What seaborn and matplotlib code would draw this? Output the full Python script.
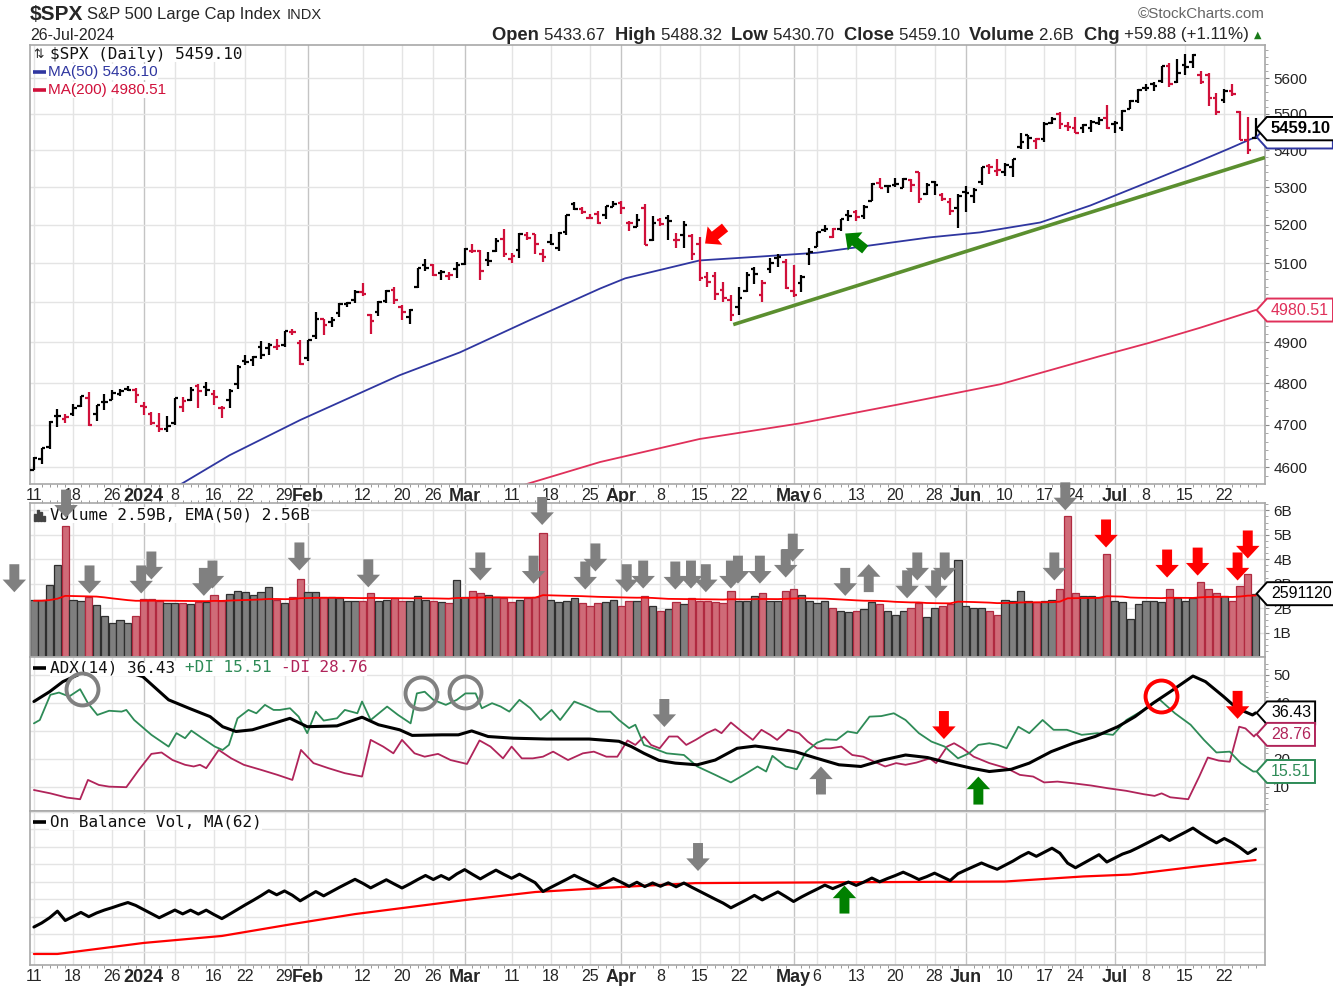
import numpy as np
import pandas as pd
import matplotlib
matplotlib.use("Agg")
import matplotlib.pyplot as plt
from matplotlib.path import Path
from matplotlib.patches import Rectangle
from matplotlib.ticker import FixedLocator, NullFormatter, FuncFormatter
import seaborn as sns

W, H = 1333, 990

# ---------------- data ----------------
HOLIDAYS = ["2023-12-25", "2024-01-01", "2024-01-15", "2024-02-19",
            "2024-03-29", "2024-05-27", "2024-06-19", "2024-07-04"]
dates = pd.bdate_range("2023-12-11", "2024-07-26")
dates = dates[~dates.isin(pd.to_datetime(HOLIDAYS))]

PREV_CLOSE = 4604.37

opens = [4593, 4618, 4646, 4721, 4714, 4725, 4744, 4764, 4725, 4753,
         4758, 4773, 4786, 4782, 4745, 4725, 4697, 4690, 4703, 4742,
         4759, 4792, 4791, 4773, 4740, 4760, 4797, 4853, 4856, 4888,
         4886, 4888, 4892, 4925, 4899, 4862, 4916, 4957, 4951, 4973,
         4996, 5005, 5026, 4968, 4976, 5004, 5032, 4989, 4963, 5039,
         5094, 5094, 5074, 5067, 5085, 5098, 5131, 5132, 5108, 5132,
         5164, 5111, 5134, 5174, 5175, 5124, 5154, 5139, 5182, 5254,
         5242, 5219, 5228, 5226, 5248, 5258, 5204, 5195, 5245, 5159,
         5212, 5217, 5161, 5172, 5171, 5149, 5065, 5068, 5032, 5005,
         4987, 5028, 5085, 5019, 5084, 5114, 5103, 5029, 5050, 5123,
         5143, 5187, 5169, 5189, 5225, 5234, 5222, 5264, 5310, 5303,
         5305, 5298, 5319, 5340, 5282, 5315, 5278, 5259, 5244, 5287,
         5275, 5314, 5357, 5344, 5341, 5353, 5410, 5441, 5424, 5431,
         5476, 5500, 5467, 5460, 5461, 5460, 5474, 5488, 5471, 5462,
         5514, 5537, 5572, 5584, 5591, 5635, 5590, 5638, 5645, 5610,
         5608, 5543, 5540, 5565, 5505, 5428, 5433.67]
highs = [4623, 4644, 4709, 4738, 4725, 4749, 4768, 4779, 4748, 4773,
         4784, 4785, 4793, 4788, 4755, 4729, 4727, 4721, 4764, 4765,
         4791, 4798, 4803, 4782, 4744, 4785, 4843, 4868, 4866, 4903,
         4898, 4907, 4929, 4932, 4906, 4906, 4975, 4958, 4964, 4999,
         5000, 5030, 5048, 4971, 5003, 5032, 5039, 4994, 4983, 5087,
         5111, 5097, 5082, 5077, 5104, 5140, 5150, 5134, 5128, 5165,
         5189, 5125, 5179, 5180, 5176, 5136, 5176, 5180, 5225, 5261,
         5247, 5229, 5236, 5249, 5264, 5264, 5209, 5229, 5256, 5222,
         5219, 5225, 5178, 5211, 5175, 5168, 5077, 5077, 5052, 5019,
         5038, 5076, 5090, 5058, 5114, 5124, 5110, 5096, 5070, 5140,
         5181, 5200, 5192, 5215, 5239, 5238, 5251, 5311, 5325, 5305,
         5325, 5324, 5323, 5342, 5311, 5316, 5283, 5270, 5281, 5303,
         5298, 5355, 5362, 5376, 5366, 5376, 5447, 5441, 5432, 5477,
         5490, 5506, 5478, 5490, 5472, 5483, 5490, 5524, 5480, 5510,
         5539, 5570, 5584, 5590, 5635, 5642, 5656, 5670, 5670, 5622,
         5615, 5557, 5570, 5585, 5509, 5491, 5488.32]
lows = [4593, 4608, 4643, 4694, 4704, 4721, 4743, 4697, 4709, 4736,
        4758, 4768, 4780, 4751, 4722, 4700, 4683, 4682, 4700, 4731,
        4756, 4739, 4769, 4747, 4715, 4740, 4786, 4844, 4842, 4859,
        4869, 4881, 4888, 4917, 4845, 4853, 4907, 4918, 4939, 4963,
        4988, 4998, 5016, 4920, 4966, 4999, 4996, 4955, 4946, 5037,
        5081, 5068, 5058, 5058, 5061, 5094, 5127, 5056, 5092, 5129,
        5117, 5100, 5114, 5161, 5124, 5104, 5146, 5131, 5172, 5240,
        5229, 5216, 5203, 5214, 5246, 5229, 5184, 5194, 5146, 5157,
        5198, 5160, 5139, 5139, 5107, 5053, 5039, 5007, 5002, 4954,
        4969, 5027, 5047, 5002, 5074, 5089, 5035, 5013, 5025, 5096,
        5142, 5180, 5165, 5183, 5210, 5211, 5215, 5264, 5297, 5284,
        5299, 5297, 5286, 5257, 5278, 5280, 5262, 5226, 5192, 5234,
        5257, 5306, 5335, 5331, 5331, 5328, 5404, 5404, 5404, 5421,
        5471, 5459, 5452, 5447, 5446, 5451, 5468, 5459, 5446, 5452,
        5514, 5531, 5563, 5565, 5587, 5575, 5586, 5610, 5630, 5583,
        5522, 5497, 5529, 5550, 5427, 5390, 5430.70]
closes = [4622.44, 4643.70, 4707.09, 4719.55, 4719.19, 4740.56, 4768.37, 4698.35, 4746.75, 4754.63,
          4774.75, 4781.58, 4783.35, 4769.83, 4742.83, 4704.81, 4688.68, 4697.24, 4763.54, 4756.50,
          4783.45, 4780.24, 4783.83, 4765.98, 4739.21, 4780.94, 4839.81, 4850.43, 4864.60, 4868.55,
          4894.16, 4890.97, 4927.93, 4924.97, 4845.65, 4906.19, 4958.61, 4942.81, 4954.23, 4995.06,
          4997.91, 5026.61, 5021.84, 4953.17, 5000.62, 5029.73, 5005.57, 4975.51, 4981.80, 5087.03,
          5088.80, 5069.53, 5078.18, 5069.76, 5096.27, 5137.08, 5130.95, 5078.65, 5104.76, 5157.36,
          5123.69, 5117.94, 5175.27, 5165.31, 5150.48, 5117.09, 5149.42, 5178.51, 5224.62, 5241.53,
          5234.18, 5218.19, 5203.58, 5248.49, 5254.35, 5243.77, 5205.81, 5211.49, 5147.21, 5204.34,
          5202.39, 5209.91, 5160.64, 5199.06, 5123.41, 5061.82, 5051.41, 5022.21, 5011.12, 4967.23,
          5010.60, 5070.55, 5071.63, 5048.42, 5099.96, 5116.17, 5035.69, 5018.39, 5064.20, 5127.79,
          5180.74, 5187.70, 5187.67, 5214.08, 5222.68, 5221.42, 5246.68, 5308.15, 5297.10, 5303.27,
          5308.13, 5321.41, 5307.01, 5267.84, 5304.72, 5306.04, 5266.95, 5235.48, 5277.51, 5283.40,
          5291.34, 5354.03, 5352.96, 5346.99, 5360.79, 5375.32, 5421.03, 5433.74, 5431.60, 5473.23,
          5487.03, 5473.17, 5464.62, 5447.87, 5469.30, 5477.90, 5482.87, 5460.48, 5475.09, 5509.01,
          5537.02, 5567.19, 5572.85, 5576.98, 5633.91, 5584.54, 5615.35, 5631.22, 5667.20, 5588.27,
          5544.59, 5505.00, 5564.41, 5555.74, 5427.13, 5399.22, 5459.10]
# volume in billions
volumes = [2.34, 2.34, 2.95, 3.77, 5.34, 2.34, 2.30, 2.45, 2.13, 1.66,
           1.38, 1.52, 1.40, 1.66, 2.37, 2.37, 2.30, 2.20, 2.20, 2.20,
           2.15, 2.25, 2.25, 2.55, 2.30, 2.58, 2.68, 2.65, 2.55, 2.65,
           2.85, 2.35, 2.20, 2.45, 3.20, 2.65, 2.65, 2.45, 2.45, 2.40,
           2.30, 2.30, 2.30, 2.60, 2.30, 2.35, 2.40, 2.30, 2.30, 2.50,
           2.35, 2.30, 2.25, 2.20, 3.15, 2.45, 2.70, 2.60, 2.55, 2.45,
           2.40, 2.25, 2.35, 2.40, 2.45, 5.07, 2.35, 2.25, 2.30, 2.40,
           2.20, 2.10, 2.20, 2.25, 2.35, 2.10, 2.30, 2.30, 2.50, 2.10,
           1.90, 1.95, 2.25, 2.15, 2.40, 2.30, 2.30, 2.25, 2.20, 2.70,
           2.30, 2.30, 2.50, 2.60, 2.30, 2.30, 2.70, 2.80, 2.55, 2.30,
           2.20, 2.30, 2.00, 1.90, 1.85, 1.90, 1.95, 2.25, 2.15, 1.90,
           1.70, 1.90, 2.00, 2.20, 1.65, 2.00, 2.10, 2.15, 3.95, 2.10,
           2.00, 2.00, 1.90, 1.70, 2.35, 2.30, 2.70, 2.30, 2.25, 2.30,
           2.35, 2.80, 5.75, 2.60, 2.50, 2.50, 2.45, 4.20, 2.30, 2.25,
           1.55, 2.15, 2.30, 2.30, 2.25, 2.80, 2.40, 2.30, 2.40, 3.05,
           2.80, 2.60, 2.50, 2.30, 2.90, 3.40, 2.59]
VOL_EMA_SEED = 2.30

tick_dates = ["2023-12-11", "2023-12-18", "2023-12-26", "2024-01-02", "2024-01-08", "2024-01-16",
              "2024-01-22", "2024-01-29", "2024-02-01", "2024-02-12", "2024-02-20", "2024-02-26",
              "2024-03-01", "2024-03-11", "2024-03-18", "2024-03-25", "2024-04-01", "2024-04-08",
              "2024-04-15", "2024-04-22", "2024-05-01", "2024-05-06", "2024-05-13", "2024-05-20",
              "2024-05-28", "2024-06-03", "2024-06-10", "2024-06-17", "2024-06-24", "2024-07-01",
              "2024-07-08", "2024-07-15", "2024-07-22"]
tick_labels = ["11", "18", "26", "2024", "8", "16", "22", "29", "Feb", "12", "20", "26",
               "Mar", "11", "18", "25", "Apr", "8", "15", "22", "May", "6", "13", "20",
               "28", "Jun", "10", "17", "24", "Jul", "8", "15", "22"]
month_labels = ["2024", "Feb", "Mar", "Apr", "May", "Jun", "Jul"]

# moving averages (bar index, value)
ma50_x = [17, 19, 25, 34, 46.7, 54.4, 63.3, 72.3, 75.5, 85, 92.7, 100, 106.8, 114.4,
          120.8, 128.5, 134.9, 141.3, 147.6, 152.7, 156]
ma50 = [4545, 4563, 4628, 4711, 4819, 4875, 4955, 5035, 5061, 5107, 5117, 5127, 5146, 5167,
        5180, 5206, 5251, 5305, 5359, 5405, 5436.10]
ma200_x = [61, 63.3, 72.3, 85, 97.8, 110.6, 123.4, 136, 142.5, 148.9, 156]
ma200 = [4550, 4563, 4612, 4666, 4703, 4749, 4797, 4865, 4899, 4936, 4980.51]
trend_x = [89.3, 157.2]
trend_y = [4944, 5380]

adx_x = [0, 2, 3.7, 6, 9, 12, 13.9, 17.2, 19.8, 22.5, 24.1, 25.8, 27.9, 30.6, 32.7, 34.9, 38.7,
         41.9, 44.0, 46.7, 48.3, 52.1, 54.2, 55.9, 58.0, 61.2, 65.5, 70.9, 74.7, 76.3, 77.9, 79.8,
         81.9, 84.7, 87.0, 89.8, 92.1, 94.3, 97.2, 100.0, 102.8, 105.6, 108.4, 111.3, 114.1, 116.9,
         119.7, 122.0, 124.8, 127.1, 129.9, 132.7, 135.5, 138.4, 140.6, 142.9, 145.1, 148.0, 149.6,
         151.9, 153.6, 155.6, 156]
adx = [40.5, 44.0, 47.6, 50.5, 52.0, 51.0, 49.4, 41.1, 38.1, 35.1, 31.5, 29.8, 30.4, 32.7, 34.5,
       31.5, 31.8, 34.9, 32.2, 30.4, 28.4, 28.6, 28.6, 30.0, 28.0, 27.4, 27.1, 27.1, 26.3, 24.4,
       22.0, 19.5, 18.5, 17.9, 19.6, 23.8, 24.6, 23.8, 22.6, 20.2, 17.9, 17.3, 19.6, 21.4, 20.5,
       18.5, 16.7, 15.5, 16.3, 18.5, 22.6, 25.6, 28.0, 31.5, 35.1, 39.9, 44.0, 49.6, 47.6, 42.3,
       38.1, 35.7, 36.43]
pdi_x = [0, 0.75, 2.1, 3.2, 4.5, 5.9, 6.9, 8.1, 9.6, 11.2, 11.8, 12.8, 15.0, 17.2, 18.2, 19.3,
         20.1, 21.5, 23.1, 24.1, 24.9, 26.0, 27.4, 28.4, 29.5, 30.6, 31.4, 32.7, 33.8, 34.9, 36.0,
         37.0, 38.7, 39.7, 41.3, 41.9, 43.0, 45.1, 46.5, 48.1, 48.9, 49.9, 51.0, 52.6, 54.0, 55.1,
         56.4, 57.2, 58.5, 59.6, 60.7, 62.0, 63.4, 64.7, 66.1, 67.2, 69.0, 70.6, 72.0, 73.6, 74.7,
         76.0, 76.8, 77.9, 79.1, 80.8, 83.0, 84.7, 87.0, 89.0, 91.0, 92.4, 93.5, 94.3, 96.0, 97.4,
         98.6, 100.0, 101.1, 102.5, 103.9, 105.1, 106.7, 108.2, 109.8, 111.3, 113.0, 114.6, 116.3,
         118.0, 119.4, 120.6, 122.0, 123.1, 124.2, 125.7, 127.1, 128.8, 130.2, 131.9, 133.8, 135.8,
         137.8, 139.5, 141.7, 143.7, 145.7, 147.7, 149.4, 151.0, 152.7, 154.1, 155.7, 156]
pdi = [32.7, 33.9, 42.9, 43.7, 42.3, 44.9, 39.9, 35.7, 37.2, 36.9, 37.5, 33.9, 28.6, 24.4, 29.2,
       27.4, 30.1, 27.4, 24.4, 23.2, 25.0, 34.5, 37.5, 36.3, 39.3, 37.5, 37.5, 38.1, 35.1, 29.2,
       36.9, 33.7, 34.5, 37.5, 36.3, 40.5, 33.9, 38.7, 35.7, 32.7, 43.4, 44.0, 41.1, 39.3, 41.1,
       43.4, 43.4, 38.1, 39.9, 38.7, 36.9, 41.1, 38.1, 33.9, 37.5, 33.9, 40.5, 38.7, 36.9, 36.9,
       33.9, 31.0, 32.2, 25.0, 23.8, 22.0, 21.4, 17.3, 14.3, 11.6, 14.9, 17.3, 15.5, 21.1, 17.3,
       16.3, 22.6, 25.8, 27.0, 26.8, 29.8, 29.2, 35.1, 35.3, 36.3, 33.9, 29.2, 26.2, 24.4, 20.2,
       22.0, 25.0, 25.6, 25.0, 23.8, 31.5, 29.2, 33.9, 30.4, 30.4, 28.6, 29.2, 28.6, 33.9, 37.5,
       41.3, 36.3, 32.2, 26.8, 22.3, 22.6, 18.5, 15.5, 15.51]
mdi_x = [0, 2.1, 4.2, 5.9, 6.9, 8.3, 9.6, 11.8, 13.4, 15.0, 16.3, 17.7, 19.3, 20.4, 21.2, 22.0,
         23.6, 25.2, 26.8, 29.0, 31.1, 33.0, 34.1, 35.7, 37.6, 39.7, 41.9, 43.0, 44.6, 45.9, 47.0,
         48.6, 49.9, 51.6, 53.2, 55.3, 56.9, 58.3, 59.9, 61.0, 62.3, 63.7, 65.0, 66.3, 68.2, 70.1,
         71.5, 73.1, 74.5, 75.8, 76.8, 77.9, 78.8, 79.9, 81.1, 82.2, 83.3, 84.5, 85.9, 87.0, 87.8,
         89.0, 90.4, 91.8, 92.9, 94.0, 94.9, 96.3, 97.7, 98.8, 100.0, 101.7, 103.1, 104.5, 105.9,
         107.3, 108.7, 110.1, 111.3, 112.7, 114.4, 115.2, 116.6, 117.5, 118.6, 120.0, 122.0, 124.2,
         125.9, 127.6, 129.0, 130.7, 132.7, 135.0, 137.2, 139.5, 141.7, 143.1, 144.0, 145.1, 147.4,
         148.8, 149.9, 151.3, 152.7, 153.9, 154.7, 155.8, 156]
mdi = [8.9, 7.7, 6.2, 5.6, 12.5, 10.7, 10.1, 9.9, 16.1, 21.8, 22.3, 19.6, 17.9, 17.3, 17.9, 16.7,
       23.2, 20.2, 17.9, 16.1, 14.3, 12.5, 23.2, 18.5, 16.7, 14.9, 13.7, 26.8, 24.4, 22.0, 26.8,
       22.0, 20.8, 21.8, 19.6, 18.2, 26.6, 24.4, 20.2, 24.4, 20.2, 20.2, 20.8, 22.6, 19.6, 22.0,
       22.6, 20.8, 20.8, 26.6, 25.0, 28.0, 25.0, 23.8, 28.0, 28.0, 25.0, 26.8, 29.2, 30.6, 29.2,
       33.0, 29.8, 26.8, 30.4, 28.6, 26.8, 30.4, 29.2, 26.2, 23.8, 23.8, 24.4, 21.4, 20.8, 19.0,
       17.3, 18.5, 17.9, 18.7, 20.2, 18.5, 24.4, 25.6, 23.8, 20.8, 18.5, 16.7, 14.3, 13.7, 11.6,
       11.9, 11.3, 10.5, 9.5, 8.6, 7.4, 6.8, 7.7, 6.3, 5.6, 13.7, 20.5, 19.4, 19.0, 31.5, 30.9,
       28.0, 28.76]

OBV_START = 4.0
obv_ma_x = [0, 3, 10, 14, 24, 33, 41, 55, 64, 75, 84.5, 109, 124, 134, 140, 148, 156]
obv_ma = [-11.4, -11.4, -7.4, -5.1, -1.1, 5.7, 11.4, 19.4, 24.0, 26.9, 29.1, 29.7, 30.0, 32.9,
          34.0, 38.3, 42.3]

# annotation marks drawn by the chart author (bar index, value, colour, direction)
vol_arrows = [(-2.5, 2.65, "gray", "down"), (4.1, 5.7, "gray", "down"), (7.1, 2.6, "gray", "down"),
              (13.7, 2.6, "gray", "down"), (15.0, 3.17, "gray", "down"), (21.7, 2.5, "gray", "down"),
              (22.8, 2.8, "gray", "down"), (33.9, 3.54, "gray", "down"), (42.7, 2.85, "gray", "down"),
              (57.0, 3.13, "gray", "down"), (63.8, 3.0, "gray", "down"), (64.9, 5.4, "gray", "down"),
              (70.4, 2.76, "gray", "down"), (71.7, 3.5, "gray", "down"), (75.7, 2.65, "gray", "down"),
              (77.8, 2.8, "gray", "down"), (81.9, 2.76, "gray", "down"), (83.9, 2.8, "gray", "down"),
              (85.8, 2.65, "gray", "down"), (89.0, 2.8, "gray", "down"), (89.9, 3.0, "gray", "down"),
              (92.7, 3.0, "gray", "down"), (96.0, 3.25, "gray", "down"), (96.9, 3.9, "gray", "down"),
              (103.6, 2.5, "gray", "down"), (106.6, 3.8, "gray", "up"), (111.5, 2.4, "gray", "down"),
              (112.8, 3.13, "gray", "down"), (115.2, 2.4, "gray", "down"), (116.3, 3.13, "gray", "down"),
              (130.3, 3.13, "gray", "down"), (131.7, 6.0, "gray", "down"),
              (136.9, 4.48, "red", "down"), (144.7, 3.25, "red", "down"), (148.6, 3.33, "red", "down"),
              (153.7, 3.13, "red", "down"), (155.0, 4.03, "red", "down")]
adx_arrows = [(80.5, 31.4, "gray", "down"), (100.5, 17.3, "gray", "up"), (116.2, 27.1, "red", "down"),
              (120.6, 13.7, "green", "up"), (153.7, 34.3, "red", "down")]
adx_circles = [(6.1, 45.0, "gray"), (49.4, 43.7, "gray"), (55.0, 43.9, "gray"), (143.9, 42.3, "red")]
obv_arrows = [(84.8, 36.0, "gray", "down"), (103.5, 27.7, "green", "up")]
price_arrows = [(85.7, 5151, "red", (20, 16)), (103.6, 5177, "green", (20, -16))]

# ---------------- colours ----------------
UP_C, DOWN_C = "#000000", "#d0103a"
MA50_C, MA200_C = "#2f36a0", "#e0305a"
PDI_C, MDI_C = "#2e8b57", "#b0245a"
ARROW_C = {"gray": "#808080", "red": "#ff0000", "green": "#008000"}
GRID_C, MONTH_GRID_C, SPINE_C = "#e4e4e4", "#c4c4c4", "#a8a8a8"

sns.set_theme(style="white")
plt.rcParams["font.family"] = ["Liberation Sans", "DejaVu Sans"]
NARROW = ["Liberation Sans Narrow", "Liberation Sans", "DejaVu Sans"]
MONO = ["DejaVu Sans Mono", "DejaVu Sans"]

fig = plt.figure(figsize=(W / 100, H / 100), dpi=100)
fig.patch.set_facecolor("white")


def px_axes(x0, y0, x1, y1):
    return fig.add_axes([x0 / W, 1 - y1 / H, (x1 - x0) / W, (y1 - y0) / H])


def ptext(ax, x, y, s, **kw):
    return ax.text(x / W, 1 - y / H, s, transform=fig.transFigure, **kw)


def tag_box(x0, y0, width, height, mutation_size):
    pad = 0.25 * mutation_size
    x0, y0 = x0 - pad, y0 - pad
    x1, y1 = x0 + width + 2 * pad, y0 + height + 2 * pad
    tip = x0 - (y1 - y0) * 0.45
    return Path([(x0, y0), (x1, y0), (x1, y1), (x0, y1), (tip, (y0 + y1) / 2), (x0, y0)], closed=True)


def value_tag(ax, val, text, color, bold=False, zorder=9):
    ax.annotate(text, xy=(1, val), xycoords=("axes fraction", "data"), xytext=(6, 0),
                textcoords="offset pixels", ha="left", va="center", color=color,
                fontsize=12 if bold else 11.5, fontweight="bold" if bold else "normal",
                bbox=dict(boxstyle=tag_box, fc="white", ec=color, lw=1.4),
                annotation_clip=False, zorder=zorder)


def block_arrow(ax, x, y, color, direction="down", offset=None):
    if offset is None:
        offset = (0, 28) if direction == "down" else (0, -28)
    ax.annotate("", xy=(x, y), xytext=offset, textcoords="offset pixels",
                arrowprops=dict(arrowstyle="simple,head_length=0.7,head_width=1.3,tail_width=0.55",
                                fc=ARROW_C[color], ec="none", mutation_scale=13, shrinkA=0, shrinkB=0),
                annotation_clip=False, zorder=10)


x = np.arange(len(closes))
closes_a = np.array(closes)
prev = np.r_[PREV_CLOSE, closes_a[:-1]]
up = closes_a >= prev
bar_colors = np.where(up, UP_C, DOWN_C)
tick_pos = [dates.get_loc(pd.Timestamp(d)) for d in tick_dates]

ax_p = px_axes(30, 45, 1265, 484)
ax_v = px_axes(30, 503, 1265, 657)
ax_a = px_axes(30, 657, 1265, 811)
ax_o = px_axes(30, 811, 1265, 965)
axes = [ax_p, ax_v, ax_a, ax_o]

for ax in axes:
    ax.set_facecolor("white")
    ax.set_xlim(-0.5, 157.2)
    for s in ax.spines.values():
        s.set_color(SPINE_C)
        s.set_linewidth(1.2)
    for p, lab in zip(tick_pos, tick_labels):
        ax.axvline(p, color=MONTH_GRID_C if lab in month_labels else GRID_C, lw=1.0, zorder=0)
    ax.yaxis.tick_right()
    ax.tick_params(axis="y", which="major", right=True, left=False, length=3, width=0.8,
                   color="#888888", pad=3, labelsize=11, labelcolor="#222222")
    ax.tick_params(axis="y", which="minor", right=True, left=False, length=2, width=0.6, color="#999999")
    ax.xaxis.set_minor_locator(FixedLocator(x))
    ax.set_xticks(tick_pos)
    ax.set_xticklabels([])
    ax.tick_params(axis="x", which="both", bottom=False, top=False, length=0)

# ---------------- price panel ----------------
ax_p.set_yscale("log")
ax_p.vlines(x, lows, highs, colors=bar_colors, lw=1.6, zorder=3)
ax_p.hlines(opens, x - 0.45, x, colors=bar_colors, lw=1.6, zorder=3)
ax_p.hlines(closes, x, x + 0.45, colors=bar_colors, lw=1.6, zorder=3)
sns.lineplot(x=ma50_x, y=ma50, ax=ax_p, color=MA50_C, lw=1.3, estimator=None, sort=False, zorder=2)
sns.lineplot(x=ma200_x, y=ma200, ax=ax_p, color=MA200_C, lw=1.3, estimator=None, sort=False, zorder=2)
ax_p.plot(trend_x, trend_y, color="#5b8f2f", lw=2.6, zorder=4, solid_capstyle="butt")
ax_p.set_ylim(4561, 5695)
price_ticks = list(range(4600, 5601, 100))
ax_p.yaxis.set_major_locator(FixedLocator(price_ticks))
ax_p.yaxis.set_minor_locator(FixedLocator(list(range(4580, 5700, 20))))
ax_p.yaxis.set_major_formatter(FuncFormatter(lambda v, p: f"{v:.0f}"))
ax_p.yaxis.set_minor_formatter(NullFormatter())
for t in price_ticks:
    ax_p.axhline(t, color=GRID_C, lw=1.0, zorder=0)
for px_, py_, c, off in price_arrows:
    block_arrow(ax_p, px_, py_, c, offset=off)
value_tag(ax_p, 5436.10, "5436.10", MA50_C, zorder=8)
value_tag(ax_p, 5459.10, "5459.10", "black", bold=True, zorder=9)
value_tag(ax_p, 4980.51, "4980.51", MA200_C, zorder=9)

# legend of price panel
ptext(ax_p, 33, 54, "\u21c5", fontsize=9, va="center", family=["DejaVu Sans"], zorder=6)
ptext(ax_p, 50, 54, "\\$SPX (Daily) 5459.10", fontsize=11.5, va="center", family=MONO,
      color="#111111", zorder=6, bbox=dict(fc="white", ec="none", pad=0.5))
for yy, txt, c in [(72, "MA(50) 5436.10", MA50_C), (90, "MA(200) 4980.51", "#d0103a")]:
    ax_p.plot([33 / W, 46 / W], [1 - yy / H, 1 - yy / H], transform=fig.transFigure,
              color=c, lw=2.6, solid_capstyle="butt", zorder=6)
    ptext(ax_p, 48, yy, txt, fontsize=11, va="center", color=c, zorder=6,
          bbox=dict(fc="white", ec="none", pad=0.5))

# ---------------- volume panel ----------------
vol = np.array(volumes)
vol_fc = np.where(up, "#7f7f7f", "#cf6b78")
vol_ec = np.where(up, "#2f2f2f", "#b02a40")
ax_v.bar(x, vol, width=0.92, color=vol_fc, edgecolor=vol_ec, lw=0.9, zorder=2)
vol_ema = pd.Series(np.r_[VOL_EMA_SEED, vol]).ewm(span=50, adjust=False).mean().to_numpy()[1:]
sns.lineplot(x=x, y=vol_ema, ax=ax_v, color="#ff0000", lw=1.3, estimator=None, zorder=3)
ax_v.set_ylim(0, 6.3)
ax_v.yaxis.set_major_locator(FixedLocator([1, 2, 3, 4, 5, 6]))
ax_v.yaxis.set_minor_locator(FixedLocator(np.arange(0.25, 6.3, 0.25)))
ax_v.yaxis.set_major_formatter(FuncFormatter(lambda v, p: f"{v:.0f}B"))
ax_v.yaxis.set_minor_formatter(NullFormatter())
for t in [1, 2, 3, 4, 5, 6]:
    ax_v.axhline(t, color=GRID_C, lw=1.0, zorder=0)
for vx, vy, c, d in vol_arrows:
    block_arrow(ax_v, vx, vy, c, d)
value_tag(ax_v, vol[-1], "2591120", "black")
for i, hh in enumerate([7, 11, 9, 5]):
    ax_v.add_patch(Rectangle(((34 + i * 3) / W, 1 - 521 / H), 2 / W, hh / H, transform=fig.transFigure,
                             color="#444444", zorder=6, clip_on=False))
ptext(ax_v, 50, 515, "Volume 2.59B, EMA(50) 2.56B", fontsize=11.5, va="center", family=MONO,
      color="#111111", zorder=6, bbox=dict(fc="white", ec="none", pad=0.5))

# ---------------- ADX panel ----------------
sns.lineplot(x=mdi_x, y=mdi, ax=ax_a, color=MDI_C, lw=1.3, estimator=None, sort=False, zorder=3)
sns.lineplot(x=pdi_x, y=pdi, ax=ax_a, color=PDI_C, lw=1.3, estimator=None, sort=False, zorder=3)
sns.lineplot(x=adx_x, y=adx, ax=ax_a, color="black", lw=2.2, estimator=None, sort=False, zorder=4)
ax_a.set_ylim(1.4, 56.4)
ax_a.yaxis.set_major_locator(FixedLocator([10, 20, 30, 40, 50]))
ax_a.yaxis.set_minor_locator(FixedLocator(list(range(2, 56, 2))))
ax_a.yaxis.set_major_formatter(FuncFormatter(lambda v, p: f"{v:.0f}"))
ax_a.yaxis.set_minor_formatter(NullFormatter())
for t in [10, 20, 30, 40, 50]:
    ax_a.axhline(t, color=GRID_C, lw=1.0, zorder=0)
for ax_x, ax_y, c, d in adx_arrows:
    block_arrow(ax_a, ax_x, ax_y, c, d)
for cx, cy, c in adx_circles:
    ax_a.plot(cx, cy, marker="o", ms=23, mfc="none", mec=ARROW_C[c], mew=2.8, zorder=10, clip_on=False)
value_tag(ax_a, 36.43, "36.43", "black")
value_tag(ax_a, 28.76, "28.76", MDI_C)
value_tag(ax_a, 15.51, "15.51", PDI_C)
ax_a.plot([33 / W, 46 / W], [1 - 668 / H, 1 - 668 / H], transform=fig.transFigure,
          color="black", lw=2.6, solid_capstyle="butt", zorder=6)
adv = 0.602 * 11.5 * 100 / 72
for start, txt, c in [(0, "ADX(14) 36.43 ", "#111111"), (14, "+DI 15.51 ", PDI_C), (24, "-DI 28.76", MDI_C)]:
    ptext(ax_a, 50 + start * adv, 668, txt, fontsize=11.5, va="center", family=MONO, color=c,
          zorder=7, bbox=dict(fc="white", ec="none", pad=0.0))

# ---------------- OBV panel ----------------
sign = np.where(closes_a > prev, 1.0, np.where(closes_a < prev, -1.0, 0.0))
sign[0] = 0.0
obv = OBV_START + np.cumsum(sign * vol)
sns.lineplot(x=obv_ma_x, y=obv_ma, ax=ax_o, color="#ff0000", lw=1.6, estimator=None, sort=False, zorder=3)
sns.lineplot(x=x, y=obv, ax=ax_o, color="black", lw=2.2, estimator=None, zorder=4)
ax_o.set_ylim(-17.7, 70.3)
ax_o.yaxis.set_major_locator(FixedLocator(list(range(-10, 71, 10))))
ax_o.yaxis.set_major_formatter(NullFormatter())
ax_o.tick_params(axis="y", which="major", length=0)
for t in range(-10, 71, 10):
    ax_o.axhline(t, color=GRID_C, lw=1.0, zorder=0)
for ox, oy, c, d in obv_arrows:
    block_arrow(ax_o, ox, oy, c, d)
ax_o.plot([33 / W, 46 / W], [1 - 822 / H, 1 - 822 / H], transform=fig.transFigure,
          color="black", lw=2.6, solid_capstyle="butt", zorder=6)
ptext(ax_o, 50, 822, "On Balance Vol, MA(62)", fontsize=11.5, va="center", family=MONO,
      color="#111111", zorder=6, bbox=dict(fc="white", ec="none", pad=0.5))

for ax in axes:
    ax.set_xlabel("")
    ax.set_ylabel("")

# ---------------- date labels ----------------
for ax in [ax_p, ax_o]:
    ax.set_xticklabels(tick_labels)
    ax.tick_params(axis="x", which="major", bottom=True, length=0, pad=3)
    ax.tick_params(axis="x", which="minor", bottom=True, length=2.5, width=0.7, color="#999999",
                   direction="out")
    for lab in ax.get_xticklabels():
        lab.set_family(NARROW)
        if lab.get_text() in month_labels:
            lab.set_fontweight("bold")
            lab.set_fontsize(13)
        else:
            lab.set_fontsize(11.5)
ax_v.tick_params(axis="x", which="minor", top=True, length=2.5, width=0.7, color="#999999",
                 direction="out")

# ---------------- header ----------------
fig.text(30 / W, 1 - 14 / H, "\\$SPX", fontsize=15, fontweight="bold", va="center")
fig.text(87 / W, 1 - 15 / H, "S&P 500 Large Cap Index", fontsize=12, va="center")
fig.text(287 / W, 1 - 15 / H, "INDX", fontsize=10.5, va="center")
fig.text(30 / W, 1 - 35 / H, "26-Jul-2024", fontsize=11.5, va="center")
fig.text(1265 / W, 1 - 14 / H, "\u00a9StockCharts.com", fontsize=11, va="center", ha="right",
         color="#666666", family=NARROW)

renderer = fig.canvas.get_renderer()
pieces = [("Open ", True), ("5433.67  ", False), ("High ", True), ("5488.32  ", False),
          ("Low ", True), ("5430.70  ", False), ("Close ", True), ("5459.10  ", False),
          ("Volume ", True), ("2.6B  ", False), ("Chg ", True), ("+59.88 (+1.11%) ", False)]
arts = []
for txt, bold in pieces:
    t = fig.text(0, 1 - 35 / H, txt, fontsize=13.2 if bold else 12.2,
                 fontweight="bold" if bold else "normal", va="center", family=NARROW)
    arts.append(t)
widths = [a.get_window_extent(renderer).width for a in arts]
xpos = 1254 - sum(widths)
for a, w_ in zip(arts, widths):
    a.set_x(xpos / W)
    xpos += w_
fig.text(1258 / W, 1 - 35 / H, "\u25b2", fontsize=7, va="center", ha="center", color="#1a7a1a",
         family=["DejaVu Sans"])

fig.savefig("out.png", dpi=100, facecolor="white")
